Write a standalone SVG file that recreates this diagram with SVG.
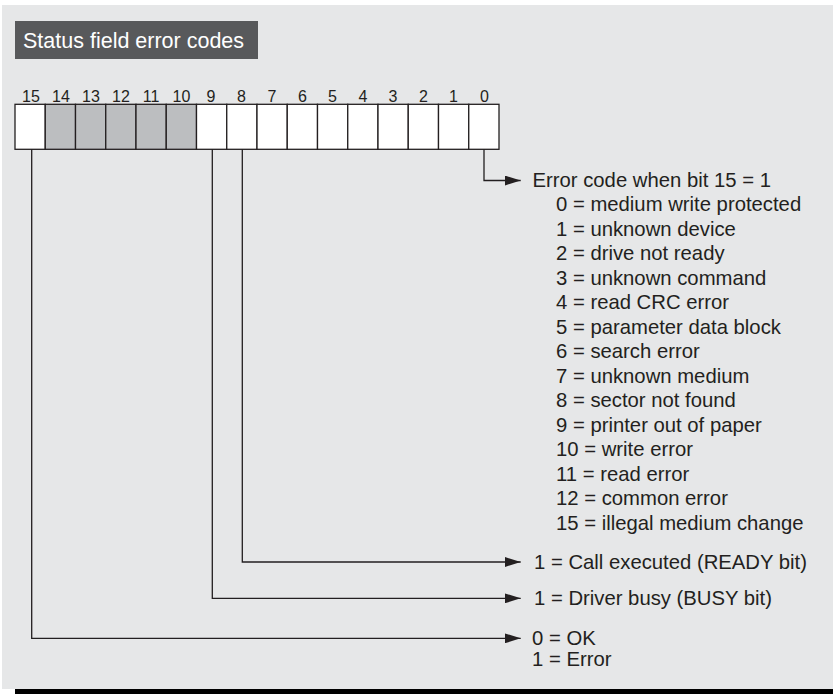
<svg xmlns="http://www.w3.org/2000/svg" width="833" height="694" viewBox="0 0 833 694">
<style>
.t{font-family:"Liberation Sans",Arial,Helvetica,sans-serif;font-size:20.3px;fill:#231f20}
.n{font-family:"Liberation Sans",Arial,Helvetica,sans-serif;font-size:16px;fill:#231f20;text-anchor:middle}
.title{font-family:"Liberation Sans",Arial,Helvetica,sans-serif;font-size:21.5px;fill:#ffffff}
.bw{fill:#ffffff;stroke:#231f20;stroke-width:1.3}
.bg{fill:#bcbec0;stroke:#231f20;stroke-width:1.3}
.c{fill:none;stroke:#231f20;stroke-width:1.3}
</style>
<defs>
<marker id="ah" markerWidth="16" markerHeight="10" refX="16" refY="5" orient="auto" markerUnits="userSpaceOnUse">
<path d="M0,0 L16,5 L0,10 Z" fill="#231f20"/>
</marker>
</defs>
<rect x="2" y="5" width="831" height="684" fill="#e6e7e8"/>
<rect x="15" y="689" width="818" height="5" fill="#000000"/>
<g id="title">
<rect x="15" y="21" width="243" height="38" fill="#58595b"/>
<text class="title" x="23" y="48">Status field error codes</text>
</g>
<g id="register">
<rect class="bw" x="15" y="104.3" width="30.25" height="45"/>
<rect class="bg" x="45.25" y="104.3" width="30.25" height="45"/>
<rect class="bg" x="75.5" y="104.3" width="30.25" height="45"/>
<rect class="bg" x="105.75" y="104.3" width="30.25" height="45"/>
<rect class="bg" x="136" y="104.3" width="30.25" height="45"/>
<rect class="bg" x="166.25" y="104.3" width="30.25" height="45"/>
<rect class="bw" x="196.5" y="104.3" width="30.25" height="45"/>
<rect class="bw" x="226.75" y="104.3" width="30.25" height="45"/>
<rect class="bw" x="257" y="104.3" width="30.25" height="45"/>
<rect class="bw" x="287.25" y="104.3" width="30.25" height="45"/>
<rect class="bw" x="317.5" y="104.3" width="30.25" height="45"/>
<rect class="bw" x="347.75" y="104.3" width="30.25" height="45"/>
<rect class="bw" x="378" y="104.3" width="30.25" height="45"/>
<rect class="bw" x="408.25" y="104.3" width="30.25" height="45"/>
<rect class="bw" x="438.5" y="104.3" width="30.25" height="45"/>
<rect class="bw" x="468.75" y="104.3" width="30.25" height="45"/>
<text class="n" x="31" y="101.7">15</text>
<text class="n" x="61" y="101.7">14</text>
<text class="n" x="91" y="101.7">13</text>
<text class="n" x="121" y="101.7">12</text>
<text class="n" x="151" y="101.7">11</text>
<text class="n" x="181.5" y="101.7">10</text>
<text class="n" x="211" y="101.7">9</text>
<text class="n" x="241.5" y="101.7">8</text>
<text class="n" x="272" y="101.7">7</text>
<text class="n" x="302.5" y="101.7">6</text>
<text class="n" x="332.5" y="101.7">5</text>
<text class="n" x="363" y="101.7">4</text>
<text class="n" x="393" y="101.7">3</text>
<text class="n" x="423.5" y="101.7">2</text>
<text class="n" x="453.5" y="101.7">1</text>
<text class="n" x="484.5" y="101.7">0</text>
</g>
<g id="connectors">
<path class="c" d="M484,149.3 V180.5 H520.7" marker-end="url(#ah)"/>
<path class="c" d="M242.3,149.3 V562 H520.7" marker-end="url(#ah)"/>
<path class="c" d="M212.3,149.3 V598.3 H520.7" marker-end="url(#ah)"/>
<path class="c" d="M31.7,149.3 V638.3 H520.7" marker-end="url(#ah)"/>
</g>
<g id="error-codes">
<text class="t" x="532.5" y="186.7">Error code when bit 15 = 1</text>
<text class="t" x="556" y="211">0 = medium write protected</text>
<text class="t" x="556" y="235.5">1 = unknown device</text>
<text class="t" x="556" y="260">2 = drive not ready</text>
<text class="t" x="556" y="284.5">3 = unknown command</text>
<text class="t" x="556" y="309">4 = read CRC error</text>
<text class="t" x="556" y="333.5">5 = parameter data block</text>
<text class="t" x="556" y="358">6 = search error</text>
<text class="t" x="556" y="382.5">7 = unknown medium</text>
<text class="t" x="556" y="407">8 = sector not found</text>
<text class="t" x="556" y="431.5">9 = printer out of paper</text>
<text class="t" x="556" y="456">10 = write error</text>
<text class="t" x="556" y="480.5">11 = read error</text>
<text class="t" x="556" y="505">12 = common error</text>
<text class="t" x="556" y="529.5">15 = illegal medium change</text>
</g>
<g id="ready-bit">
<text class="t" x="534" y="569.3">1 = Call executed (READY bit)</text>
</g>
<g id="busy-bit">
<text class="t" x="534" y="605.3">1 = Driver busy (BUSY bit)</text>
</g>
<g id="error-bit">
<text class="t" x="532" y="644.5">0 = OK</text>
<text class="t" x="532" y="666">1 = Error</text>
</g>
</svg>
